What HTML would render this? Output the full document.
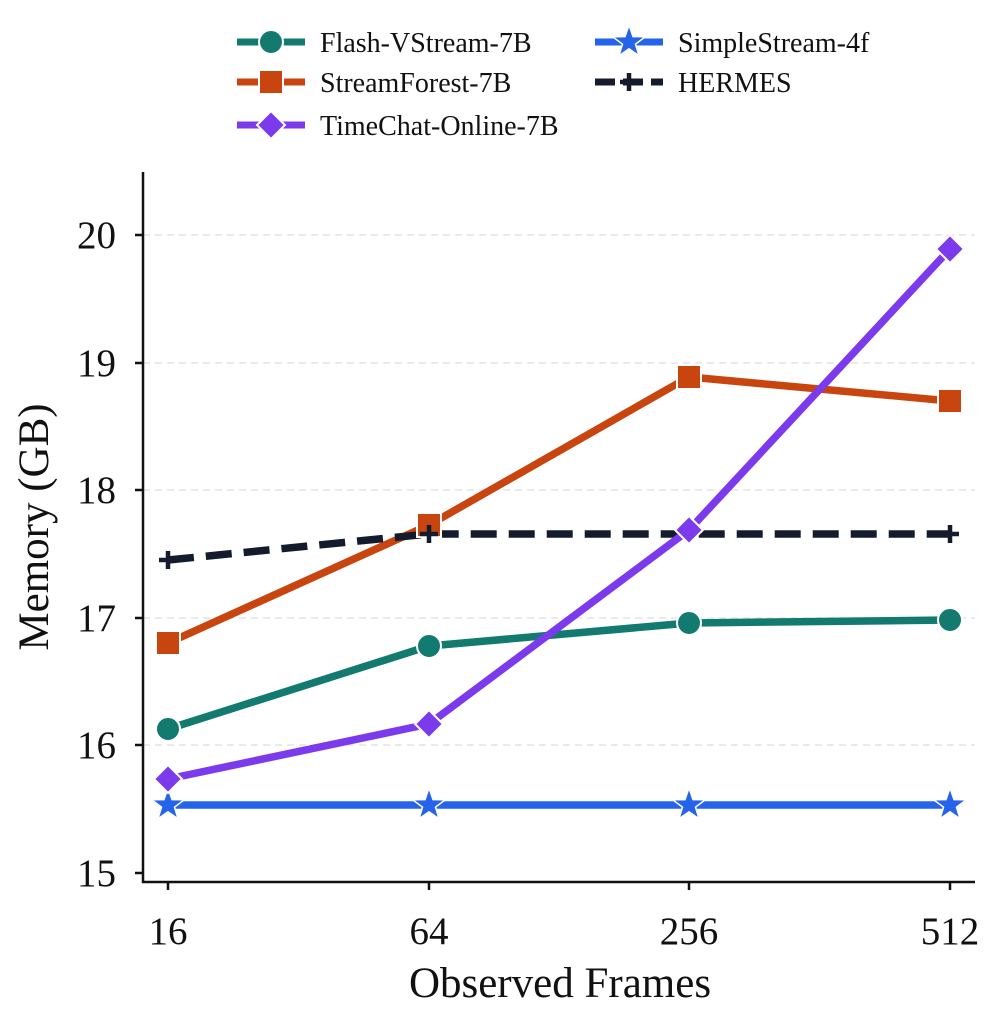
<!DOCTYPE html>
<html><head><meta charset="utf-8"><style>
body{margin:0;background:#fff}
text{font-family:"Liberation Serif","DejaVu Serif",serif;fill:#111}
</style></head><body>
<svg width="995" height="1022" viewBox="0 0 995 1022" xmlns="http://www.w3.org/2000/svg">
<g stroke="#e3e3e3" stroke-width="1.5" stroke-dasharray="7,5">
<line x1="143" x2="975" y1="745" y2="745"/><line x1="143" x2="975" y1="618" y2="618"/>
<line x1="143" x2="975" y1="490" y2="490"/><line x1="143" x2="975" y1="363" y2="363"/>
<line x1="143" x2="975" y1="235" y2="235"/></g>
<g stroke="#111" stroke-width="2.5" fill="none">
<path d="M143 172V882H975"/>
<path d="M143 873h-8M143 745h-8M143 618h-8M143 490h-8M143 363h-8M143 235h-8"/>
<path d="M168 882v8M429 882v8M689 882v8M950 882v8"/></g>
<g font-size="39" text-anchor="end">
<text x="116" y="886">15</text><text x="116" y="758">16</text><text x="116" y="631">17</text>
<text x="116" y="503">18</text><text x="116" y="376">19</text><text x="116" y="248">20</text></g>
<g font-size="39" text-anchor="middle">
<text x="168" y="944">16</text><text x="429" y="944">64</text><text x="689" y="944">256</text><text x="950" y="944">512</text>
<text x="560" y="997" font-size="43">Observed Frames</text>
<text transform="translate(48,527) rotate(-90)" font-size="43">Memory (GB)</text></g>
<g fill="none" stroke-width="7.5" stroke-linejoin="round">
<polyline stroke="#2563eb" points="168,805 429,805 689,805 950,805"/>
<polyline stroke="#127a6e" points="168,729 429,646 689,623 950,620"/>
<polyline stroke="#c9450f" points="168,643 429,525 689,377 950,401"/>
<polyline stroke="#141b2d" stroke-dasharray="26,12" points="168,560 429,534 689,534 950,534"/>
<polyline stroke="#7c3aed" points="168,779 429,724 689,530 950,249"/>
</g>
<defs>
<polygon id="star" points="0,-17 4,-5.4 16.2,-5.2 6.5,2.1 10,13.7 0,6.8 -10,13.7 -6.5,2.1 -16.2,-5.2 -4,-5.4"/>
</defs>
<g fill="#2563eb" stroke="#fff" stroke-width="1.5">
<use href="#star" x="168" y="805"/><use href="#star" x="429" y="805"/><use href="#star" x="689" y="805"/><use href="#star" x="950" y="805"/></g>
<g fill="#127a6e" stroke="#fff" stroke-width="2">
<circle cx="168" cy="729" r="12"/><circle cx="429" cy="646" r="12"/><circle cx="689" cy="623" r="12"/><circle cx="950" cy="620" r="12"/></g>
<g fill="#c9450f" stroke="#fff" stroke-width="2">
<rect x="156" y="631" width="24" height="24"/><rect x="417" y="513" width="24" height="24"/><rect x="677" y="365" width="24" height="24"/><rect x="938" y="389" width="24" height="24"/></g>
<g stroke="#141b2d" stroke-width="4.5">
<path d="M159 560h18M168 551v18M420 534h18M429 525v18M680 534h18M689 525v18M941 534h18M950 525v18"/></g>
<g fill="#7c3aed" stroke="#fff" stroke-width="2">
<polygon points="168,765 182,779 168,793 154,779"/><polygon points="429,710 443,724 429,738 415,724"/>
<polygon points="689,516 703,530 689,544 675,530"/><polygon points="950,235 964,249 950,263 936,249"/></g>
<g stroke-width="7">
<line x1="237" x2="305" y1="42" y2="42" stroke="#127a6e"/>
<line x1="237" x2="305" y1="82" y2="82" stroke="#c9450f"/>
<line x1="237" x2="305" y1="125" y2="125" stroke="#7c3aed"/>
<line x1="595" x2="663" y1="42" y2="42" stroke="#2563eb"/>
<line x1="595" x2="663" y1="82" y2="82" stroke="#141b2d" stroke-dasharray="20,8"/></g>
<circle cx="271" cy="42" r="12" fill="#127a6e" stroke="#fff" stroke-width="2"/>
<rect x="259" y="70" width="24" height="24" fill="#c9450f" stroke="#fff" stroke-width="2"/>
<polygon points="271,111 285,125 271,139 257,125" fill="#7c3aed" stroke="#fff" stroke-width="2"/>
<use href="#star" x="629" y="42" fill="#2563eb" stroke="#fff" stroke-width="1.5"/>
<path d="M620 82h18M629 73v18" stroke="#141b2d" stroke-width="4.5"/>
<g font-size="28">
<text x="320" y="52">Flash-VStream-7B</text><text x="320" y="92">StreamForest-7B</text>
<text x="320" y="135">TimeChat-Online-7B</text><text x="678" y="52">SimpleStream-4f</text><text x="678" y="92">HERMES</text></g>
</svg>
</body></html>
